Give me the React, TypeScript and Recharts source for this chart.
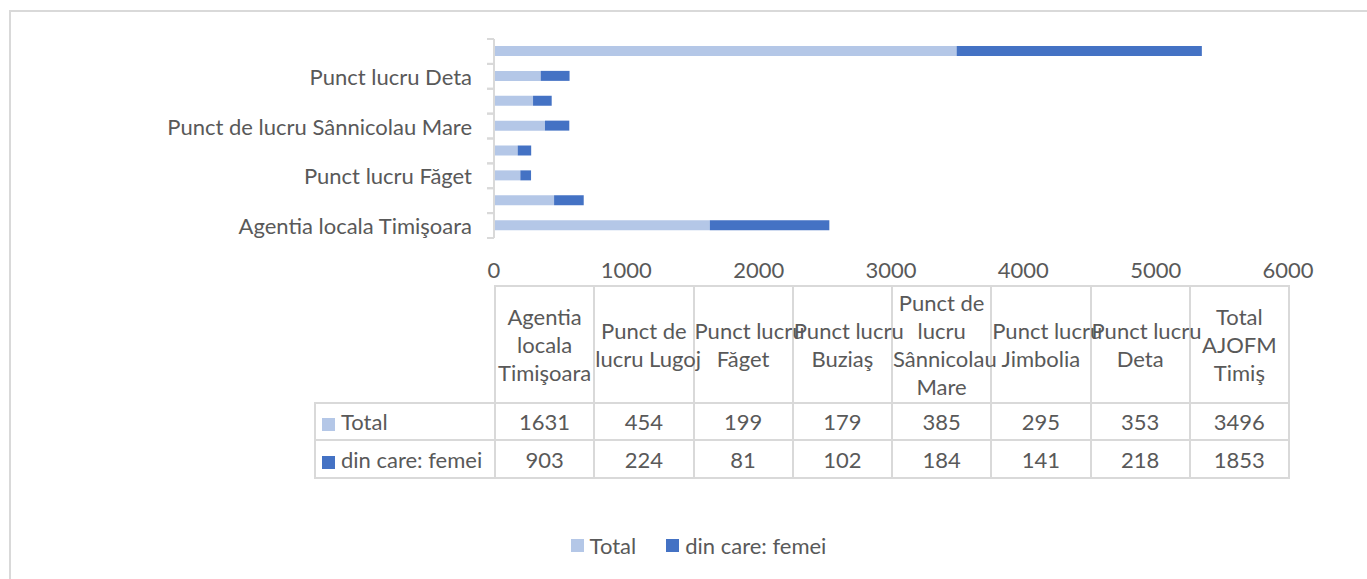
import React from "react";
import { Bar, BarChart, XAxis, YAxis } from "recharts";

const categories = [
  "Agentia locala Timişoara",
  "Punct de lucru Lugoj",
  "Punct lucru Făget",
  "Punct lucru Buziaş",
  "Punct de lucru Sânnicolau Mare",
  "Punct lucru Jimbolia",
  "Punct lucru Deta",
  "Total AJOFM Timiş",
];

// header labels as they wrap in the data table
const tableHeaders = [
  ["Agentia", "locala", "Timişoara"],
  ["Punct de", "lucru Lugoj"],
  ["Punct lucru", "Făget"],
  ["Punct lucru", "Buziaş"],
  ["Punct de", "lucru", "Sânnicolau", "Mare"],
  ["Punct lucru", "Jimbolia"],
  ["Punct lucru", "Deta"],
  ["Total", "AJOFM", "Timiş"],
];

const totalValues = [1631, 454, 199, 179, 385, 295, 353, 3496];
const femeiValues = [903, 224, 81, 102, 184, 141, 218, 1853];

const xTicks = [0, 1000, 2000, 3000, 4000, 5000, 6000];

const series = [
  { key: "total", name: "Total", color: "#B4C7E7", values: totalValues },
  { key: "femei", name: "din care: femei", color: "#4472C4", values: femeiValues },
];

const data = categories.map((name, i) => ({
  name,
  total: totalValues[i],
  femei: femeiValues[i],
}));

const TEXT = "#595959";
const LINE = "#D9D9D9";
const FONT = "Lato, 'Open Sans', sans-serif";
const FS = 22;

const PLOT_LEFT = 494;
const PLOT_TOP = 39;
const PLOT_BOTTOM = 238;
const BAND = (PLOT_BOTTOM - PLOT_TOP) / categories.length;

function CategoryTick(props: any) {
  const { x, y, payload, index } = props;
  return (
    <g>
      <line x1={PLOT_LEFT - 7} x2={PLOT_LEFT} y1={y - BAND / 2} y2={y - BAND / 2} stroke={LINE} strokeWidth={2} />
      <line x1={PLOT_LEFT - 7} x2={PLOT_LEFT} y1={y + BAND / 2} y2={y + BAND / 2} stroke={LINE} strokeWidth={2} />
      {index % 2 === 0 && (
        <text x={x} y={y} textAnchor="end" dominantBaseline="central" fill={TEXT} fontSize={FS} fontFamily={FONT}>
          {payload.value}
        </text>
      )}
    </g>
  );
}

const cellBorder = `2px solid ${LINE}`;

function DataTable() {
  const colW = (1288 - PLOT_LEFT) / categories.length;
  return (
    <table
      style={{
        position: "absolute",
        left: 314,
        top: 285,
        width: 1288 - 314,
        borderCollapse: "collapse",
        tableLayout: "fixed",
        fontFamily: FONT,
        fontSize: FS,
        color: TEXT,
      }}
    >
      <colgroup>
        <col style={{ width: PLOT_LEFT - 314 }} />
        {categories.map((c) => (
          <col key={c} style={{ width: colW }} />
        ))}
      </colgroup>
      <tbody>
        <tr style={{ height: 117 }}>
          <td style={{ border: "none", padding: 0 }} />
          {tableHeaders.map((lines, i) => (
            <td
              key={i}
              style={{
                border: cellBorder,
                padding: 0,
                textAlign: "center",
                verticalAlign: "middle",
                lineHeight: "28px",
                whiteSpace: "nowrap",
                overflow: "visible",
              }}
            >
              {lines.map((l, j) => (
                <div key={j}>{l}</div>
              ))}
            </td>
          ))}
        </tr>
        {series.map((s, r) => (
          <tr key={s.key} style={{ height: r === 0 ? 37 : 38 }}>
            <td style={{ border: cellBorder, padding: "0 0 0 6px", whiteSpace: "nowrap" }}>
              <span
                style={{
                  display: "inline-block",
                  width: 13,
                  height: 13,
                  background: s.color,
                  marginRight: 6,
                  verticalAlign: "-1px",
                }}
              />
              {s.name}
            </td>
            {s.values.map((v, i) => (
              <td key={i} style={{ border: cellBorder, padding: 0, textAlign: "center" }}>
                {v}
              </td>
            ))}
          </tr>
        ))}
      </tbody>
    </table>
  );
}

function BottomLegend() {
  return (
    <div
      style={{
        position: "absolute",
        left: 0,
        top: 532,
        width: 1367,
        display: "flex",
        justifyContent: "center",
        gap: 30,
        fontFamily: FONT,
        fontSize: FS,
        color: TEXT,
        paddingLeft: 30,
        boxSizing: "border-box",
      }}
    >
      {series.map((s) => (
        <div key={s.key} style={{ display: "flex", alignItems: "center" }}>
          <span style={{ display: "inline-block", width: 13, height: 13, background: s.color, marginRight: 6 }} />
          {s.name}
        </div>
      ))}
    </div>
  );
}

export default function App() {
  return (
    <div
      style={{
        position: "absolute",
        left: 0,
        top: 0,
        width: 1367,
        height: 579,
        overflow: "hidden",
        background: "#fff",
      }}
    >
      <div
        style={{
          position: "absolute",
          left: 9,
          top: 10,
          width: 1400,
          height: 700,
          border: cellBorder,
        }}
      />
      <div style={{ position: "absolute", left: 0, top: 0 }}>
        <BarChart
          width={1367}
          height={300}
          data={data}
          layout="vertical"
          margin={{ top: PLOT_TOP, right: 1367 - 1288, bottom: 22, left: 0 }}
        >
          <XAxis
            type="number"
            domain={[0, 6000]}
            ticks={xTicks}
            axisLine={false}
            tickLine={false}
            tickSize={0}
            tickMargin={24}
            height={40}
            tick={{ fill: TEXT, fontSize: FS, fontFamily: FONT }}
          />
          <YAxis
            type="category"
            dataKey="name"
            reversed
            width={PLOT_LEFT}
            interval={0}
            tickSize={7}
            tickMargin={15}
            tickLine={false}
            axisLine={{ stroke: LINE, strokeWidth: 2 }}
            tick={<CategoryTick />}
          />
          {series.map((s) => (
            <Bar
              key={s.key}
              dataKey={s.key}
              name={s.name}
              stackId="a"
              fill={s.color}
              barSize={10}
              isAnimationActive={false}
            />
          ))}
        </BarChart>
      </div>
      <DataTable />
      <BottomLegend />
    </div>
  );
}
